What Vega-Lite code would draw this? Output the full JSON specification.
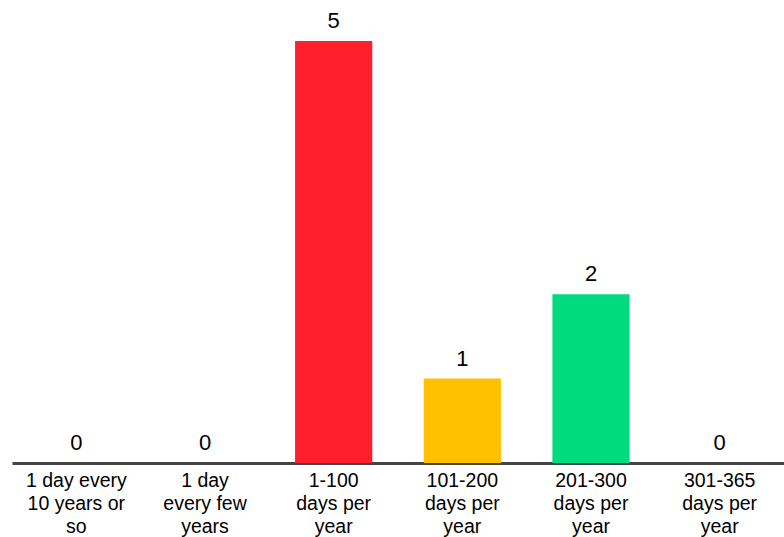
{
  "$schema": "https://vega.github.io/schema/vega-lite/v6.json",
  "width": 772,
  "height": 422,
  "autosize": {"type": "none"},
  "padding": {"left": 12, "top": 41, "right": 0, "bottom": 74},
  "background": "white",
  "config": {
    "view": {"stroke": null},
    "font": "Liberation Sans"
  },
  "data": {
    "values": [
      {"frequency": "1 day every 10 years or so", "count": 0, "color": "#FF1F2D"},
      {"frequency": "1 day every few years", "count": 0, "color": "#FF1F2D"},
      {"frequency": "1-100 days per year", "count": 5, "color": "#FF1F2D"},
      {"frequency": "101-200 days per year", "count": 1, "color": "#FFC000"},
      {"frequency": "201-300 days per year", "count": 2, "color": "#00DB80"},
      {"frequency": "301-365 days per year", "count": 0, "color": "#00DB80"}
    ]
  },
  "encoding": {
    "x": {
      "field": "frequency",
      "type": "nominal",
      "sort": null,
      "scale": {"paddingInner": 0.4, "paddingOuter": 0.2},
      "axis": {
        "title": null,
        "labelAngle": 0,
        "ticks": false,
        "domain": true,
        "domainColor": "#444444",
        "domainWidth": 3,
        "labelFont": "Liberation Sans",
        "labelFontSize": 19.5,
        "labelColor": "#000000",
        "labelPadding": 8,
        "labelLineHeight": 23,
        "labelBaseline": "top",
        "labelExpr": "({'1 day every 10 years or so': ['1 day every', '10 years or', 'so'], '1 day every few years': ['1 day', 'every few', 'years'], '1-100 days per year': ['1-100', 'days per', 'year'], '101-200 days per year': ['101-200', 'days per', 'year'], '201-300 days per year': ['201-300', 'days per', 'year'], '301-365 days per year': ['301-365', 'days per', 'year']})[datum.label]"
      }
    },
    "y": {
      "field": "count",
      "type": "quantitative",
      "scale": {"domain": [0, 5], "nice": false},
      "axis": null
    }
  },
  "layer": [
    {
      "mark": {"type": "bar"},
      "encoding": {
        "color": {"field": "color", "type": "nominal", "scale": null}
      }
    },
    {
      "mark": {
        "type": "text",
        "baseline": "bottom",
        "dy": -8,
        "fontSize": 22,
        "font": "Liberation Sans",
        "color": "#000000"
      },
      "encoding": {
        "text": {"field": "count", "type": "quantitative"}
      }
    }
  ]
}
